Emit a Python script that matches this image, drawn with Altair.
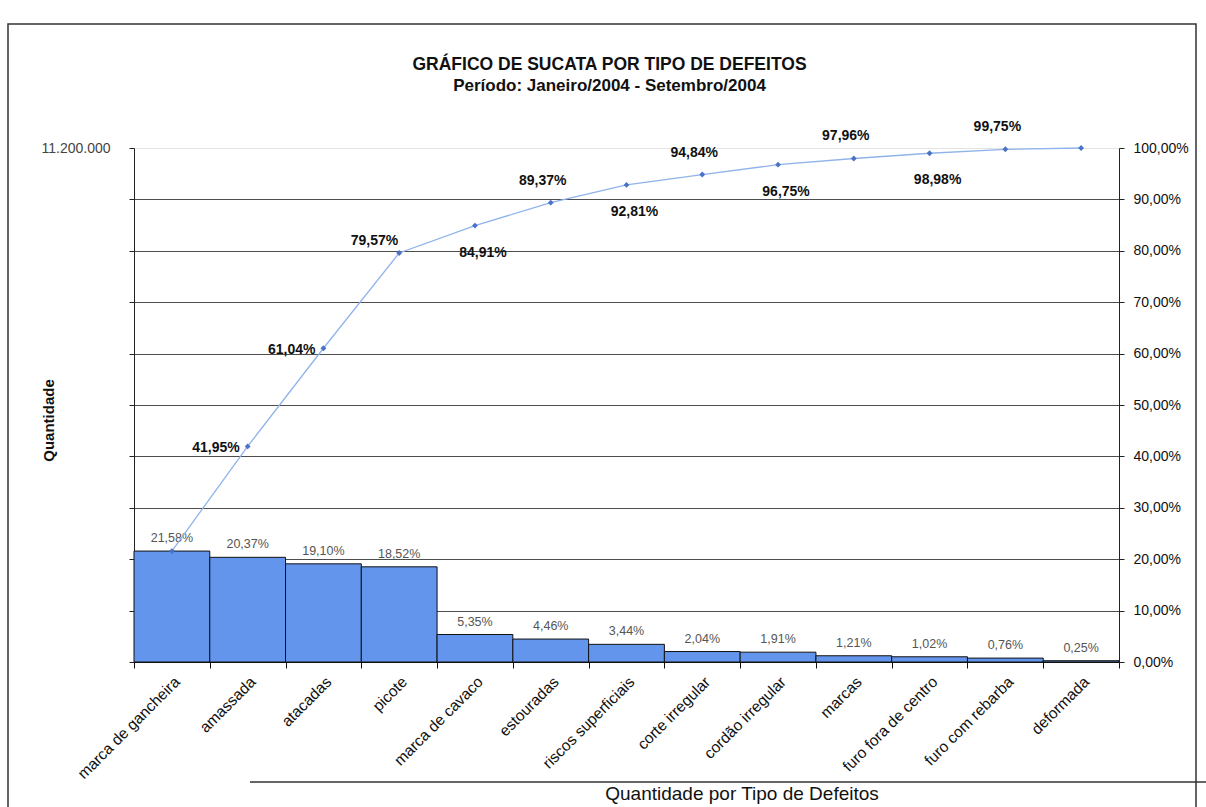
import altair as alt
import pandas as pd

# ---- data ----
categories = ["marca de gancheira", "amassada", "atacadas", "picote", "marca de cavaco",
              "estouradas", "riscos superficiais", "corte irregular", "cordão irregular",
              "marcas", "furo fora de centro", "furo com rebarba", "deformada"]
quantidade = [2417000, 2281000, 2139000, 2074000, 599000, 500000, 385000,
              228000, 214000, 136000, 114000, 85000, 28000]
percentual = [21.58, 20.37, 19.10, 18.52, 5.35, 4.46, 3.44, 2.04, 1.91, 1.21, 1.02, 0.76, 0.25]
acumulado = [21.58, 41.95, 61.04, 79.57, 84.91, 89.37, 92.81, 94.84, 96.75, 97.96, 98.98, 99.75, 100.00]
left_ticks = [0, 1120000, 2240000, 3360000, 4480000, 5600000, 6720000,
              7840000, 8960000, 10080000, 11200000]
right_ticks = [0, 10, 20, 30, 40, 50, 60, 70, 80, 90, 100]

df = pd.DataFrame({"defeito": categories, "quantidade": quantidade,
                   "pct": percentual, "acum": acumulado})

FONT = "Liberation Sans"
W, H = 985, 514
PAD_L, PAD_T = 134, 148

base = alt.Chart(df).transform_window(
    idx="row_number()"
).transform_calculate(
    barlab="replace(format(datum.pct, '.2f'), '.', ',') + '%'",
    cumlab="replace(format(datum.acum, '.2f'), '.', ',') + '%'",
)

x_enc = alt.X(
    "defeito:N", sort=categories,
    scale=alt.Scale(paddingInner=0, paddingOuter=0),
    axis=alt.Axis(title=None, labelAngle=-45, tickBand="extent", tickSize=6,
                  tickColor="#111", domainColor="#111", labelColor="#111",
                  labelFont=FONT, labelFontSize=15.5, labelPadding=6),
)

y_left = alt.Y(
    "quantidade:Q",
    scale=alt.Scale(domain=[0, 11200000], nice=False, zero=True),
    axis=alt.Axis(orient="left", values=left_ticks, grid=False,
                  labelExpr="datum.value >= 11200000 ? '11.200.000' : ''",
                  labelFont=FONT, labelFontSize=14, labelColor="#444",
                  labelPadding=19, tickSize=5, tickColor="#222", domainColor="#222",
                  title="Quantidade", titleFont=FONT, titleFontSize=15,
                  titleFontWeight="bold", titleColor="#111",
                  titleX=-78, titleY=272, titleAngle=270),
)

bars = base.mark_bar(color="#6495ED", stroke="#111", strokeWidth=1).encode(
    x=x_enc, y=y_left)
bar_labels = base.mark_text(baseline="bottom", dy=-6, font=FONT, fontSize=12.5,
                            color="#555").encode(x=x_enc, y=y_left, text="barlab:N")
left = alt.layer(bars, bar_labels)

y_right = alt.Y(
    "acum:Q",
    scale=alt.Scale(domain=[0, 100], nice=False, zero=True),
    axis=alt.Axis(orient="right", values=right_ticks, title=None, grid=True,
                  gridColor={"condition": {"test": "datum.value >= 100", "value": "#e4e4e4"},
                             "value": "#4d4d4d"},
                  gridWidth=1.1,
                  labelExpr="replace(format(datum.value, '.2f'), '.', ',') + '%'",
                  labelFont=FONT, labelFontSize=14, labelColor="#111",
                  labelPadding=9, tickSize=5, tickColor="#222", domainColor="#222"),
)

line = base.mark_line(color="#8fb3ea", strokeWidth=1.3).encode(x=x_enc, y=y_right)
points = base.mark_point(shape="diamond", filled=True, size=34, color="#4a72c6",
                         opacity=1).encode(x=x_enc, y=y_right)

lab_style = dict(font=FONT, fontSize=14, fontWeight="bold", color="#111")
lab_left = base.transform_filter("datum.idx == 2 || datum.idx == 3").mark_text(
    align="right", baseline="middle", dx=-8, dy=2, **lab_style).encode(
    x=x_enc, y=y_right, text="cumlab:N")
lab_upleft = base.transform_filter("datum.idx == 4").mark_text(
    align="right", baseline="middle", dx=-1, dy=-12, **lab_style).encode(
    x=x_enc, y=y_right, text="cumlab:N")
lab_above = base.transform_filter(
    "datum.idx >= 6 && datum.idx <= 12 && datum.idx % 2 == 0").mark_text(
    align="center", baseline="middle", dx=-8, dy=-22, **lab_style).encode(
    x=x_enc, y=y_right, text="cumlab:N")
lab_below = base.transform_filter(
    "datum.idx >= 5 && datum.idx <= 11 && datum.idx % 2 == 1").mark_text(
    align="center", baseline="middle", dx=8, dy=27, **lab_style).encode(
    x=x_enc, y=y_right, text="cumlab:N")

right = alt.layer(line, points, lab_left, lab_upleft, lab_above, lab_below)

# chart-area frame of the scanned sheet and the caption of the next chart below it
one = pd.DataFrame({"k": [0]})
frame = alt.Chart(one).mark_rect(fillOpacity=0, stroke="#333", strokeWidth=1.5).encode(
    x=alt.value(8 - PAD_L), x2=alt.value(1196 - PAD_L),
    y=alt.value(24 - PAD_T), y2=alt.value(900 - PAD_T))
bottom_rule = alt.Chart(one).mark_rule(color="#333", strokeWidth=1.5).encode(
    x=alt.value(250 - PAD_L), x2=alt.value(1206 - PAD_L),
    y=alt.value(782 - PAD_T))
caption = alt.Chart(one).mark_text(
    text="Quantidade por Tipo de Defeitos", font=FONT, fontSize=19, color="#111",
    align="center", baseline="alphabetic").encode(
    x=alt.value(742 - PAD_L), y=alt.value(800 - PAD_T))

chart = alt.layer(frame, bottom_rule, caption, left, right).resolve_scale(
    y="independent"
).properties(
    width=W, height=H,
    title=alt.TitleParams(
        text="GRÁFICO DE SUCATA POR TIPO DE DEFEITOS",
        subtitle="Período: Janeiro/2004 - Setembro/2004",
        font=FONT, subtitleFont=FONT, fontSize=17.5, subtitleFontSize=17,
        fontWeight="bold", subtitleFontWeight="bold",
        color="#111", subtitleColor="#111",
        anchor="middle", frame="group", dx=-17, offset=-71, subtitlePadding=5),
    autosize=alt.AutoSizeParams(type="none"),
    padding={"left": PAD_L, "top": PAD_T, "right": 1206 - PAD_L - W,
             "bottom": 807 - PAD_T - H},
    background="white",
).configure_view(strokeWidth=0)

chart.save("out.html", embed_options={"renderer": "svg", "actions": False})
